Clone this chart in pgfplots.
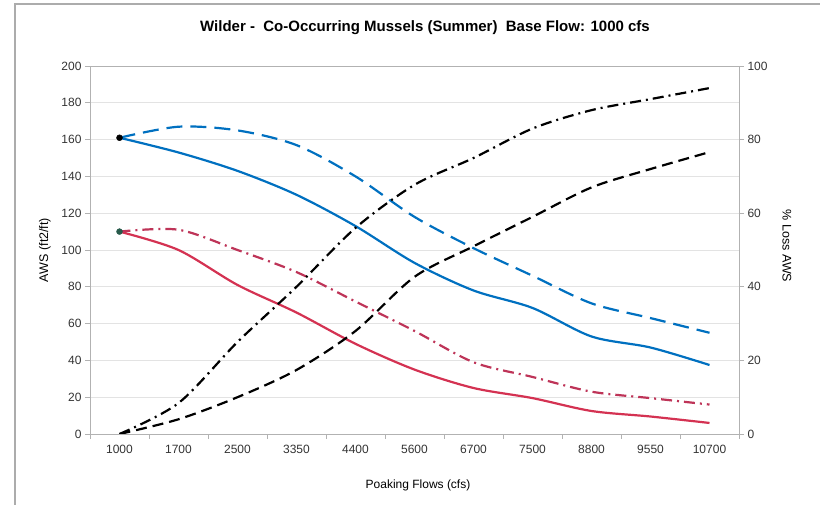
\documentclass[border=0pt]{standalone}
\usepackage{pgfplots}
\pgfplotsset{compat=1.18}
\usepackage{fontspec}
\setmainfont{Liberation Sans}
\definecolor{xblue}{RGB}{0,112,192}
\definecolor{xred}{RGB}{212,50,82}
\definecolor{xredd}{RGB}{190,52,88}
\definecolor{teal}{RGB}{40,90,75}
\begin{document}
\begin{tikzpicture}[x=1pt,y=1pt]
\useasboundingbox (0,0) rectangle (820,505);
\draw[gray!65, line width=1.3pt] (15,0) -- (15,501) -- (820,501);
\node[font=\bfseries\fontsize{15}{17}\selectfont] at (425,477) {Wilder -\ \ Co-Occurring Mussels (Summer)\ \ Base Flow: 1000 cfs};
\node[font=\fontsize{12.5}{14}\selectfont, rotate=90] at (45,255) {AWS (ft2/ft)};
\node[font=\fontsize{12.5}{14}\selectfont, rotate=-90] at (787,259) {\% Loss AWS};
\node[font=\fontsize{12}{14}\selectfont] at (418,20) {Poaking Flows (cfs)};
\begin{axis}[
  at={(90pt,71pt)}, anchor=south west, scale only axis,
  width=649pt, height=368pt,
  xmin=-0.5, xmax=10.5, ymin=0, ymax=200,
  xtick={0,...,10},
  xticklabels={1000,1700,2500,3350,4400,5600,6700,7500,8800,9550,10700},
  minor xtick={-0.5,0.5,...,10.5},
  xtick pos=bottom, ytick pos=left,
  ytick={0,20,...,200},
  ymajorgrids, grid style={gray!22, line width=0.9pt},
  axis line style={gray!60, line width=0.8pt},
  tick style={gray!60, line width=0.8pt},
  major x tick style={draw=none},
  tick align=outside, major tick length=5pt, minor tick length=5pt,
  ticklabel style={font=\fontsize{12}{14}\selectfont, text=black!80},
  xticklabel style={yshift=-3pt},
  /pgf/number format/assume math mode=true,
  clip=false,
]
\addplot[xblue, line width=2.2pt, smooth] coordinates {(0,161) (1,153) (2,143) (3,130) (4,113) (5,93) (6,78) (7,68.5) (8,53) (9,47) (10,37.5)};
\addplot[xblue, line width=2.2pt, smooth, dash pattern=on 16pt off 8pt] coordinates {(0,161) (1,167) (2,165) (3,157) (4,140) (5,118) (6,101) (7,86) (8,71) (9,63) (10,55)};
\addplot[xred, line width=2.2pt, smooth] coordinates {(0,110) (1,100) (2,81) (3,66) (4,49) (5,35) (6,25) (7,19.5) (8,12.5) (9,9.5) (10,6)};
\addplot[xredd, line width=2.2pt, smooth, dash pattern=on 11pt off 5pt on 2pt off 5pt] coordinates {(0,110) (1,111) (2,100) (3,88) (4,72) (5,56) (6,39) (7,31) (8,23) (9,19.5) (10,16)};
\addplot[only marks, mark=*, mark size=3pt, black] coordinates {(0,161)};
\addplot[only marks, mark=*, mark size=3pt, teal] coordinates {(0,110)};
\end{axis}
\begin{axis}[
  at={(90pt,71pt)}, anchor=south west, scale only axis,
  width=649pt, height=368pt,
  xmin=-0.5, xmax=10.5, ymin=0, ymax=100,
  hide x axis,
  axis y line*=right,
  ytick={0,20,...,100},
  axis line style={gray!60, line width=0.8pt},
  tick style={gray!60, line width=0.8pt},
  tick align=outside, major tick length=5pt,
  ticklabel style={font=\fontsize{12}{14}\selectfont, text=black!80},
  /pgf/number format/assume math mode=true,
]
\addplot[black, line width=2.2pt, smooth, dash pattern=on 11pt off 5pt on 2pt off 5pt] coordinates {(0,0) (1,8.4) (2,25) (3,40) (4,56) (5,67.7) (6,75) (7,83) (8,88) (9,91) (10,94)};
\addplot[black, line width=2.2pt, smooth, dash pattern=on 11pt off 6pt] coordinates {(0,0) (1,4) (2,10) (3,17.4) (4,28) (5,42.7) (6,51) (7,59) (8,67) (9,72) (10,76.6)};
\end{axis}
\end{tikzpicture}
\end{document}
